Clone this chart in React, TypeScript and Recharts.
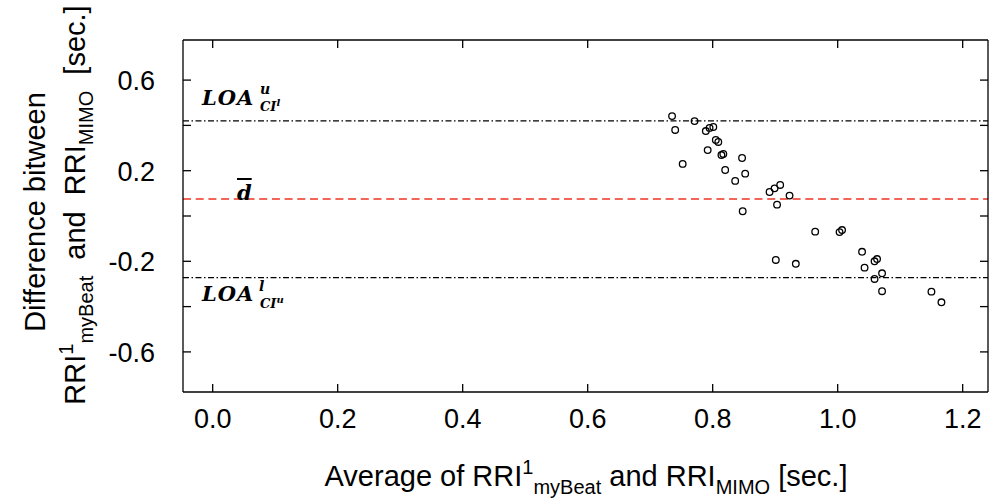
import React from 'react';
import { ScatterChart, Scatter, XAxis, YAxis, ReferenceLine } from 'recharts';

// average of the two RR intervals [sec.]
const avgRRI = [
  0.735, 0.740, 0.752, 0.771, 0.789, 0.792, 0.795, 0.801, 0.805, 0.809,
  0.814, 0.817, 0.847, 0.820, 0.852, 0.836, 0.891, 0.899, 0.908, 0.923,
  0.903, 0.848, 0.964, 1.003, 1.007, 0.901, 0.933, 1.039, 1.043, 1.059,
  1.063, 1.071, 1.059, 1.071, 1.150, 1.166,
];
// difference between the two RR intervals [sec.]
const diffRRI = [
  0.441, 0.380, 0.230, 0.419, 0.375, 0.291, 0.389, 0.393, 0.336, 0.327,
  0.269, 0.274, 0.256, 0.203, 0.187, 0.155, 0.106, 0.122, 0.137, 0.090,
  0.050, 0.021, -0.069, -0.071, -0.062, -0.194, -0.211, -0.158, -0.228, -0.200,
  -0.190, -0.253, -0.278, -0.332, -0.334, -0.381,
];

const meanDiff = 0.075;
const loaUpper = 0.42;
const loaLower = -0.272;

const xTicks = [0, 0.2, 0.4, 0.6, 0.8, 1.0, 1.2];
const xTickLabels = ['0.0', '0.2', '0.4', '0.6', '0.8', '1.0', '1.2'];
const yTicks = [-0.6, -0.4, -0.2, 0, 0.2, 0.4, 0.6];
const yTickLabels = ['-0.6', '', '-0.2', '', '0.2', '', '0.6'];

const data = avgRRI.map((x, i) => ({ x, y: diffRRI[i] }));

const FONT = '"Liberation Sans", Arial, Helvetica, sans-serif';
const MATH = '"DejaVu Serif", "Liberation Serif", serif';
const TICK = 8;
const SW = 1.3;

const BottomTick = (p: any) => {
  const i = xTicks.findIndex((t) => Math.abs(t - p.payload.value) < 1e-9);
  return (
    <g>
      <line x1={p.x} y1={p.y} x2={p.x} y2={p.y - TICK} stroke="#000" strokeWidth={SW} />
      <text x={p.x} y={p.y + 36} textAnchor="middle" fontSize={27} fontFamily={FONT} fill="#000">
        {xTickLabels[i]}
      </text>
    </g>
  );
};

const TopTick = (p: any) => (
  <line x1={p.x} y1={p.y} x2={p.x} y2={p.y + TICK} stroke="#000" strokeWidth={SW} />
);

const LeftTick = (p: any) => {
  const i = yTicks.findIndex((t) => Math.abs(t - p.payload.value) < 1e-9);
  return (
    <g>
      <line x1={p.x} y1={p.y} x2={p.x + TICK} y2={p.y} stroke="#000" strokeWidth={SW} />
      <text x={p.x - 28} y={p.y + 10} textAnchor="end" fontSize={27} fontFamily={FONT} fill="#000">
        {yTickLabels[i]}
      </text>
    </g>
  );
};

const RightTick = (p: any) => (
  <line x1={p.x} y1={p.y} x2={p.x - TICK} y2={p.y} stroke="#000" strokeWidth={SW} />
);

const OpenCircle = (p: any) => (
  <circle cx={p.cx} cy={p.cy} r={3.3} fill="none" stroke="#000" strokeWidth={1.3} />
);

const sub = (t: string, top: number, size = 20): React.ReactNode => (
  <span style={{ fontSize: size, position: 'relative', top }}>{t}</span>
);

const mathStyle: React.CSSProperties = {
  position: 'absolute',
  fontFamily: MATH,
  fontWeight: 'bold',
  fontStyle: 'italic',
  whiteSpace: 'nowrap',
  lineHeight: '24px',
};

export default function App() {
  return (
    <div style={{ position: 'absolute', left: 0, top: 0, width: 990, height: 501, background: '#fff', fontFamily: FONT }}>
      <ScatterChart width={990} height={501} margin={{ top: 39, right: 1, bottom: 79, left: 123 }}>
        <XAxis
          xAxisId="b"
          type="number"
          dataKey="x"
          domain={[-0.0475, 1.2405]}
          ticks={xTicks}
          interval={0}
          allowDataOverflow
          height={30}
          tickSize={0}
          tickMargin={0}
          axisLine={{ stroke: '#000', strokeWidth: SW }}
          tick={<BottomTick />}
        />
        <XAxis
          xAxisId="t"
          orientation="top"
          type="number"
          dataKey="x"
          domain={[-0.0475, 1.2405]}
          ticks={xTicks}
          interval={0}
          allowDataOverflow
          height={1}
          tickSize={0}
          tickMargin={0}
          axisLine={{ stroke: '#000', strokeWidth: SW }}
          tick={<TopTick />}
        />
        <YAxis
          yAxisId="l"
          type="number"
          dataKey="y"
          domain={[-0.777, 0.777]}
          ticks={yTicks}
          interval={0}
          allowDataOverflow
          width={60}
          tickSize={0}
          tickMargin={0}
          axisLine={{ stroke: '#000', strokeWidth: SW }}
          tick={<LeftTick />}
        />
        <YAxis
          yAxisId="r"
          orientation="right"
          type="number"
          dataKey="y"
          domain={[-0.777, 0.777]}
          ticks={yTicks}
          interval={0}
          allowDataOverflow
          width={1}
          tickSize={0}
          tickMargin={0}
          axisLine={{ stroke: '#000', strokeWidth: SW }}
          tick={<RightTick />}
        />
        <ReferenceLine xAxisId="b" yAxisId="l" y={loaUpper} stroke="#000" strokeWidth={1.2} strokeDasharray="6 2.5 1.5 2.5" />
        <ReferenceLine xAxisId="b" yAxisId="l" y={loaLower} stroke="#000" strokeWidth={1.2} strokeDasharray="6 2.5 1.5 2.5" />
        <ReferenceLine xAxisId="b" yAxisId="l" y={meanDiff} stroke="#ee3322" strokeWidth={1.5} strokeDasharray="8 4.7" />
        <Scatter xAxisId="b" yAxisId="l" data={data} shape={<OpenCircle />} isAnimationActive={false} />
      </ScatterChart>

      {/* line labels */}
      <div style={{ ...mathStyle, left: 202, top: 86, fontSize: 21, letterSpacing: 1 }}>
        LOA
        <span style={{ position: 'absolute', left: 58, top: -9, fontSize: 14 }}>u</span>
        <span style={{ position: 'absolute', left: 58, top: 9, fontSize: 13, letterSpacing: 0 }}>
          CI<span style={{ position: 'relative', top: -5, fontSize: 10 }}>l</span>
        </span>
      </div>
      <div style={{ ...mathStyle, left: 237, top: 181, fontSize: 21, textDecoration: 'overline' }}>
        d
      </div>
      <div style={{ ...mathStyle, left: 202, top: 282, fontSize: 21, letterSpacing: 1 }}>
        LOA
        <span style={{ position: 'absolute', left: 57, top: -8, fontSize: 14 }}>l</span>
        <span style={{ position: 'absolute', left: 58, top: 10, fontSize: 13, letterSpacing: 0 }}>
          CI<span style={{ position: 'relative', top: -5, fontSize: 10 }}>u</span>
        </span>
      </div>

      {/* x axis title */}
      <div style={{ position: 'absolute', left: 586, top: 477, transform: 'translate(-50%, -50%)', fontSize: 29, whiteSpace: 'nowrap', lineHeight: '34px' }}>
        Average of RRI{sub('1', -12)}{sub('myBeat', 8)} and RRI{sub('MIMO', 8)} [sec.]
      </div>

      {/* y axis title */}
      <div style={{ position: 'absolute', left: 35, top: 212, transform: 'translate(-50%, -50%) rotate(-90deg)', fontSize: 29, whiteSpace: 'nowrap', lineHeight: '34px' }}>
        Difference bitween
      </div>
      <div style={{ position: 'absolute', left: 76, top: 205, transform: 'translate(-50%, -50%) rotate(-90deg)', fontSize: 29, whiteSpace: 'pre', lineHeight: '34px' }}>
        RRI{sub('1', -12)}{sub('myBeat', 8)}{'  and  '}RRI{sub('MIMO', 8)}{'  [sec.]'}
      </div>
    </div>
  );
}
